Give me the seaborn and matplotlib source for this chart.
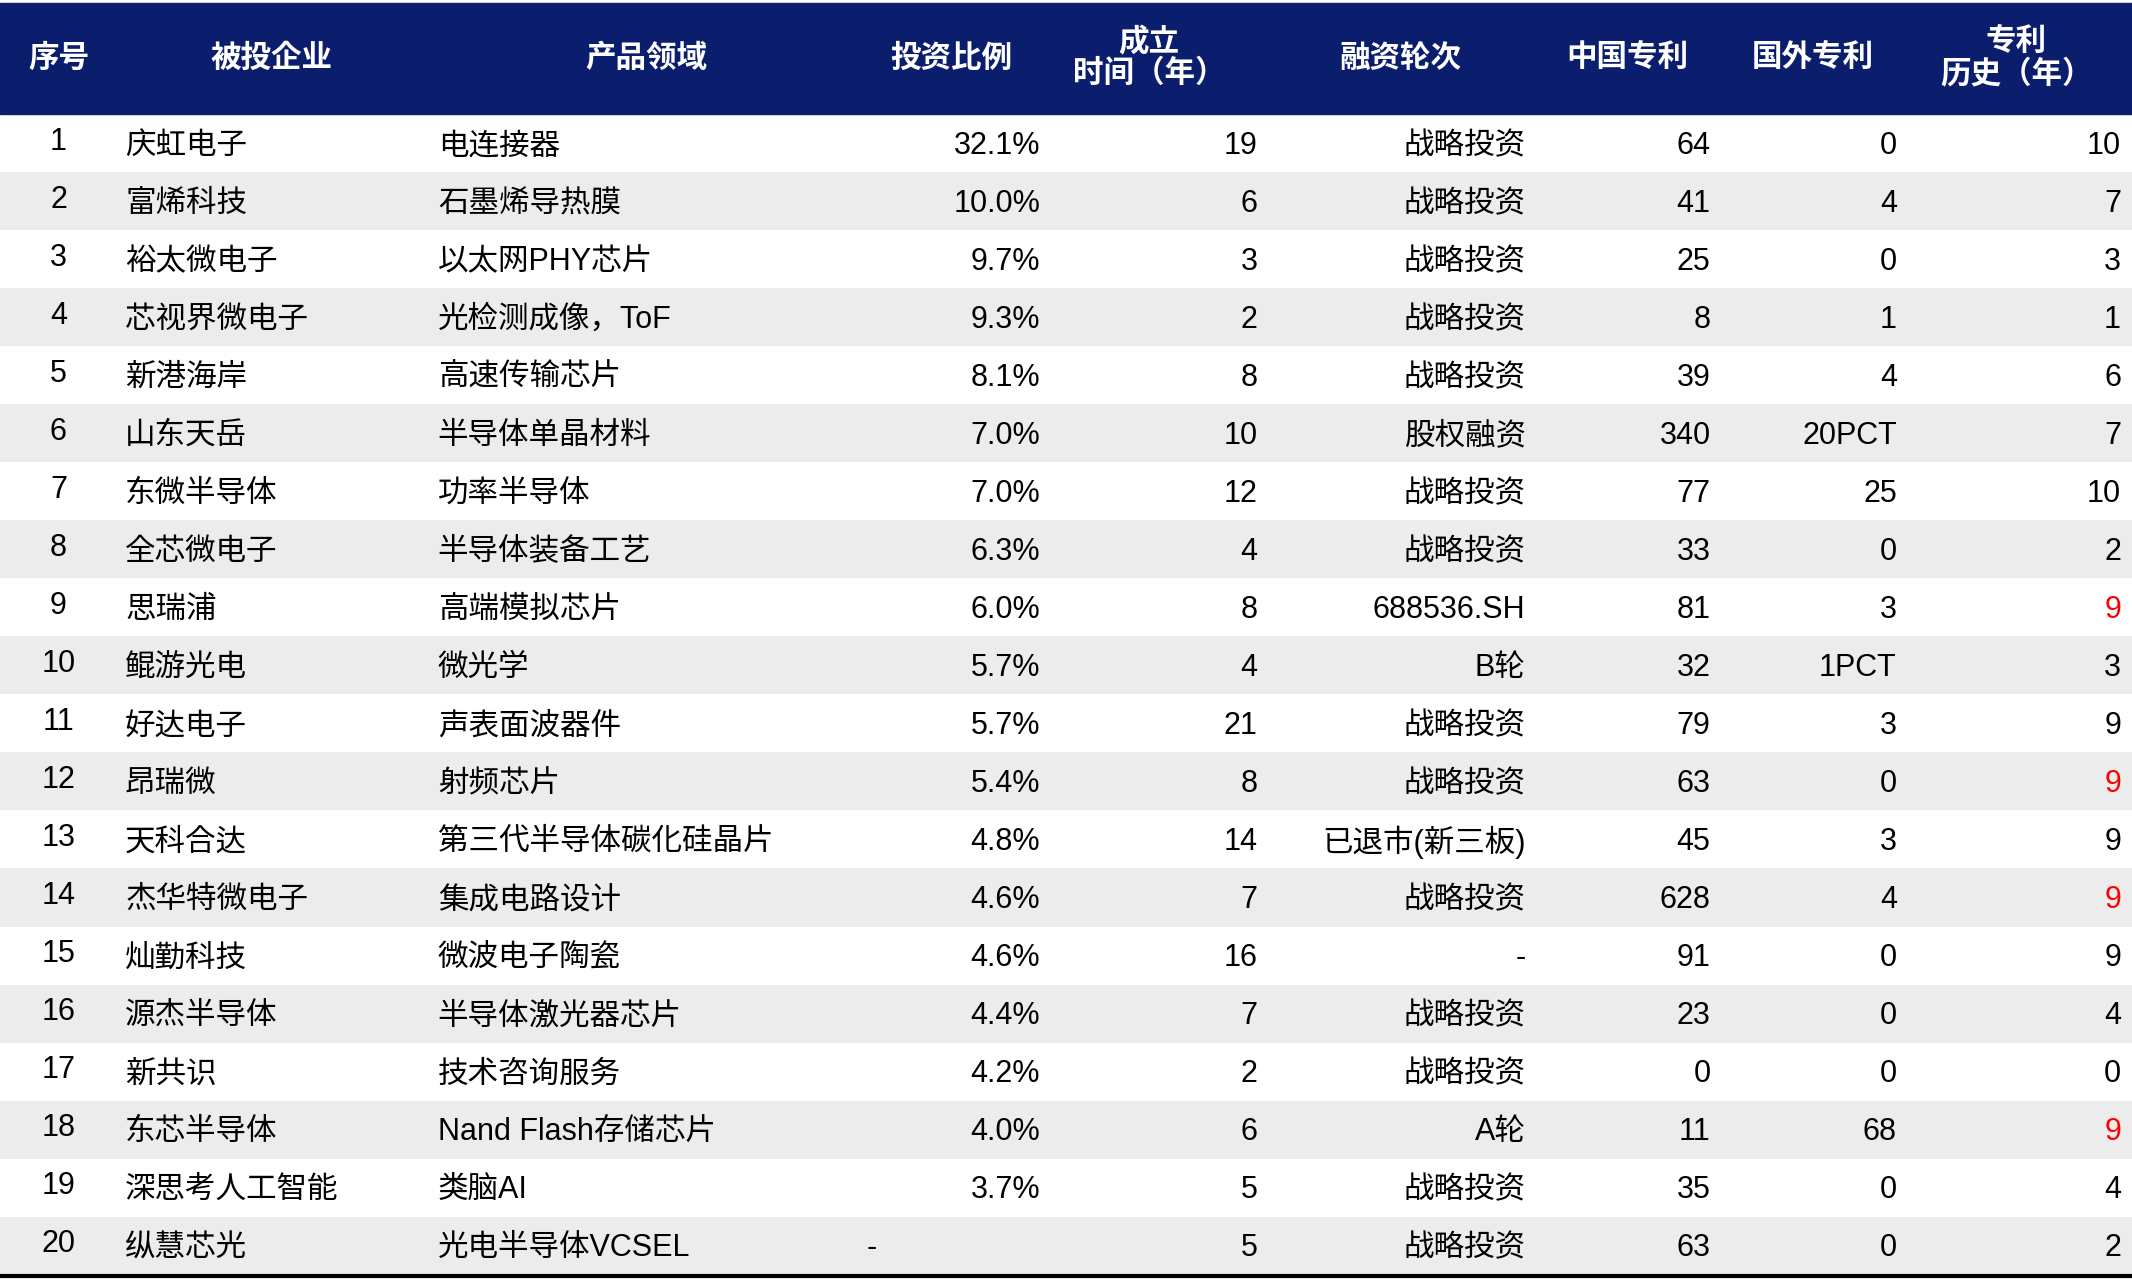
import matplotlib
matplotlib.use("Agg")
import matplotlib.pyplot as plt
from matplotlib import font_manager
import seaborn as sns
import numpy as np

names = {f.name for f in font_manager.fontManager.ttflist}
cjk = [n for n in ["Noto Sans CJK SC", "Noto Sans CJK JP", "Noto Sans CJK TC", "Noto Sans CJK KR"] if n in names]
plt.rcParams["font.family"] = ["Liberation Sans"] + cjk + ["DejaVu Sans"]

headers = ["序号", "被投企业", "产品领域", "投资比例", "成立\n时间（年）", "融资轮次", "中国专利", "国外专利", "专利\n历史（年）"]
idx = [str(i) for i in range(1, 21)]
companies = ["庆虹电子", "富烯科技", "裕太微电子", "芯视界微电子", "新港海岸", "山东天岳", "东微半导体", "全芯微电子",
             "思瑞浦", "鲲游光电", "好达电子", "昂瑞微", "天科合达", "杰华特微电子", "灿勤科技", "源杰半导体",
             "新共识", "东芯半导体", "深思考人工智能", "纵慧芯光"]
products = ["电连接器", "石墨烯导热膜", "以太网PHY芯片", "光检测成像，ToF", "高速传输芯片", "半导体单晶材料", "功率半导体",
            "半导体装备工艺", "高端模拟芯片", "微光学", "声表面波器件", "射频芯片", "第三代半导体碳化硅晶片", "集成电路设计",
            "微波电子陶瓷", "半导体激光器芯片", "技术咨询服务", "Nand Flash存储芯片", "类脑AI", "光电半导体VCSEL"]
ratios = ["32.1%", "10.0%", "9.7%", "9.3%", "8.1%", "7.0%", "7.0%", "6.3%", "6.0%", "5.7%", "5.7%", "5.4%", "4.8%",
          "4.6%", "4.6%", "4.4%", "4.2%", "4.0%", "3.7%", "-"]
founded = [19, 6, 3, 2, 8, 10, 12, 4, 8, 4, 21, 8, 14, 7, 16, 7, 2, 6, 5, 5]
rounds = ["战略投资"] * 5 + ["股权融资", "战略投资", "战略投资", "688536.SH", "B轮", "战略投资", "战略投资",
                           "已退市(新三板)", "战略投资", "-", "战略投资", "战略投资", "A轮", "战略投资", "战略投资"]
cn_pat = [64, 41, 25, 8, 39, 340, 77, 33, 81, 32, 79, 63, 45, 628, 91, 23, 0, 11, 35, 63]
fx_pat = ["0", "4", "0", "1", "4", "20PCT", "25", "0", "3", "1PCT", "3", "0", "3", "4", "0", "0", "0", "68", "0", "0"]
hist = [10, 7, 3, 1, 6, 7, 10, 2, 9, 3, 9, 9, 9, 9, 9, 4, 0, 9, 4, 2]
red_hist = [9, 12, 14, 18]

W, H = 1568.0, 940.0
fig = plt.figure(figsize=(21.32, 12.8), dpi=100)
top, body_top, body_bot = 2.0, 84.0, 936.0
rh = (body_bot - body_top) / 20

axb = fig.add_axes([0, 1 - body_bot / H, 1, (body_bot - body_top) / H])
stripe = np.array([[i % 2] for i in range(20)])
sns.heatmap(stripe, ax=axb, cmap=["#ffffff", "#ececec"], cbar=False, xticklabels=False, yticklabels=False)
axb.axis("off")

ax = fig.add_axes([0, 0, 1, 1])
ax.set_xlim(0, W); ax.set_ylim(H, 0); ax.axis("off")
ax.patch.set_alpha(0)
ax.add_patch(plt.Rectangle((0, top), W, body_top - top, color="#0b1e6e"))
ax.plot([0, W], [body_bot + 1, body_bot + 1], color="black", lw=3)

hx = [43, 200, 475, 700, 845, 1030, 1197, 1333, 1483]
hy = (top + body_top) / 2
for x, h in zip(hx, headers):
    ax.text(x, hy, h, color="white", fontsize=22, fontweight="bold", ha="center", va="center", linespacing=1.05)

fs = 22
for i in range(20):
    yc = body_top + (i + 0.5) * rh + 2
    ax.text(43, yc - 3, idx[i], ha="center", va="center", fontsize=fs)
    ax.text(92, yc, companies[i], ha="left", va="center", fontsize=fs)
    ax.text(322, yc, products[i], ha="left", va="center", fontsize=fs)
    if ratios[i] == "-":
        ax.text(645, yc, "-", ha="right", va="center", fontsize=fs)
    else:
        ax.text(765, yc, ratios[i], ha="right", va="center", fontsize=fs)
    ax.text(925, yc, str(founded[i]), ha="right", va="center", fontsize=fs)
    ax.text(1122, yc, rounds[i], ha="right", va="center", fontsize=fs)
    ax.text(1258, yc, str(cn_pat[i]), ha="right", va="center", fontsize=fs)
    ax.text(1395, yc, fx_pat[i], ha="right", va="center", fontsize=fs)
    ax.text(1560, yc, str(hist[i]), ha="right", va="center", fontsize=fs,
            color="#ff0000" if (i + 1) in red_hist else "black")

fig.savefig("out.png", dpi=100)
